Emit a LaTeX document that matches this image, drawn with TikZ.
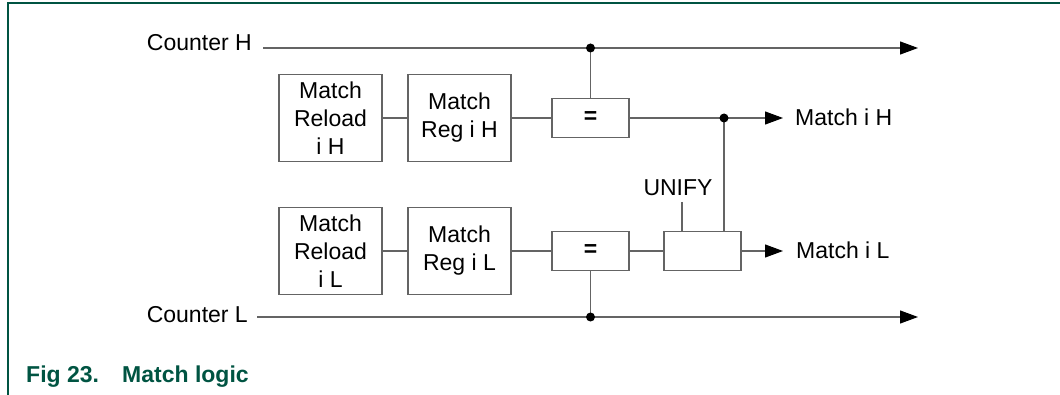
\documentclass[tikz,border=0pt]{standalone}
\usepackage{fontspec}
\setmainfont{Liberation Sans}
\usetikzlibrary{arrows.meta}
\definecolor{nxpgreen}{RGB}{0,84,66}
\definecolor{wire}{RGB}{100,100,100}

\begin{document}
\begin{tikzpicture}[x=1pt, y=-1pt,
    blk/.style={draw=wire, line width=1.1pt, minimum width=103pt, minimum height=87pt,
      inner sep=0pt, align=center, font=\fontsize{23}{28}\selectfont},
    cmp/.style={draw=wire, line width=1.1pt, minimum width=77pt, minimum height=39pt,
      inner sep=0pt, font=\fontsize{23}{28}\selectfont\bfseries},
    lbl/.style={inner sep=0pt, font=\fontsize{23}{28}\selectfont},
    sig/.style={draw=wire, line width=1.1pt},
    sigarrow/.style={sig, -{Triangle[length=18pt, width=13pt, color=black]}}]
    \useasboundingbox (0,0) rectangle (1060,395);
    % page frame
    \draw[nxpgreen, line width=2pt] (8,395) -- (8,3) -- (1060,3);

    % registers
    \node[blk] (rlH) at (330.5,118) {Match\\Reload\\i H};
    \node[blk] (rgH) at (459.5,118) {Match\\Reg i H};
    \node[blk] (rlL) at (330.5,251) {Match\\Reload\\i L};
    \node[blk] (rgL) at (459.5,251) {Match\\Reg i L};
    \node[cmp] (eqH) at (590.5,118) {=};
    \node[cmp] (eqL) at (590.5,251) {=};
    \node[cmp] (uni) at (702.5,251) {};

    % labels
    \node[lbl, anchor=base east] (cntH) at (252,51) {Counter H};
    \node[lbl, anchor=base east] (cntL) at (248,323) {Counter L};
    \node[lbl, anchor=base west] (outH) at (795,126) {Match i H};
    \node[lbl, anchor=base west] (outL) at (796,259) {Match i L};
    \node[lbl, anchor=base] (unify) at (678,196) {UNIFY};

    \coordinate (hEnd) at (918,48);
    \coordinate (lEnd) at (918,317);
    \coordinate (hTap) at (eqH.north |- hEnd);
    \coordinate (lTap) at (eqL.south |- lEnd);
    \coordinate (mTap) at (724,118);
    \coordinate (mHEnd) at (783,118);
    \coordinate (mLEnd) at (783,251);
    \coordinate (uIn) at (682,202);

    % connections
    \draw[sigarrow] (cntH.east |- hEnd) ++(11,0) -- (hEnd);
    \draw[sigarrow] (cntL.east |- lEnd) ++(9,0) -- (lEnd);
    \draw[sig] (rlH) -- (rgH);
    \draw[sig] (rgH) -- (eqH);
    \draw[sig] (rlL) -- (rgL);
    \draw[sig] (rgL) -- (eqL);
    \draw[sig] (hTap) -- (eqH.north);
    \draw[sig] (eqL.south) -- (lTap);
    \draw[sig] (eqH.east) -- (mTap);
    \draw[sigarrow] (mTap) -- (mHEnd);
    \draw[sig] (mTap) -- (mTap |- uni.north);
    \draw[sig] (eqL) -- (uni);
    \draw[sigarrow] (uni.east) -- (mLEnd);
    \draw[sig] (uIn) -- (uIn |- uni.north);
    \foreach \p in {hTap,mTap,lTap}
      \fill (\p) circle (4.5pt);

    % caption
    \node[lbl, anchor=base west, font=\fontsize{23}{28}\selectfont\bfseries, text=nxpgreen] (capNum) at (26,382) {Fig 23.};
    \node[lbl, anchor=base west, font=\fontsize{23}{28}\selectfont\bfseries, text=nxpgreen] (capTxt) at (122,382) {Match logic};
\end{tikzpicture}
\end{document}
